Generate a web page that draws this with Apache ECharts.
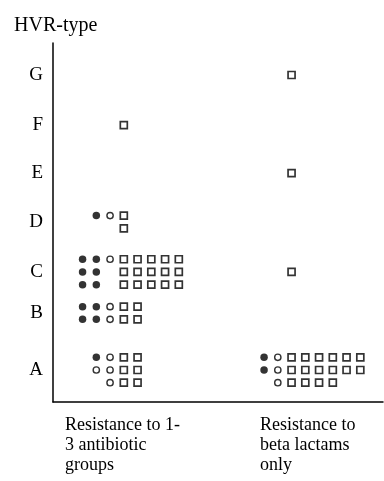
<!DOCTYPE html>
<html>
<head>
<meta charset="utf-8">
<script src="https://cdn.jsdelivr.net/npm/echarts@6/dist/echarts.min.js"></script>
<style>html,body{margin:0;padding:0;background:#fff}#c{width:384px;height:481px}</style>
</head>
<body>
<div id="c"></div>
<script>
// HVR types (y categories) and the level of each on the y axis (row units, top = 0)
const hvrTypes = ['A', 'B', 'C', 'D', 'E', 'F', 'G'];
const hvrLevels = [25.75, 21.26, 18.03, 14.09, 10.24, 6.46, 2.52];

// resistance groups (x categories) and where each group's first column sits (column units)
const groups = ['Resistance to 1-\n3 antibiotic\ngroups', 'Resistance to\nbeta lactams\nonly'];
const groupStarts = [2.15, 15.35];
const groupLabelAt = [0.87, 15.05];

// isolates per cluster, row by row: F = filled circle, O = open circle, S = square, . = empty
const group1Rows = {
  A: ['.FOSS', '.OOSS', '..OSS'],
  B: ['FFOSS', 'FFOSS'],
  C: ['FFOSSSSS', 'FF.SSSSS', 'FF.SSSSS'],
  D: ['.FOS', '...S'],
  F: ['...S']
};
const group2Rows = {
  A: ['FOSSSSSS', 'FOSSSSSS', '.OSSSS'],
  C: ['..S'],
  E: ['..S'],
  G: ['..S']
};
const clusterRows = [group1Rows, group2Rows];

const kinds = { F: [], O: [], S: [] };
clusterRows.forEach((rowsByType, g) => {
  Object.keys(rowsByType).forEach(t => {
    const rows = rowsByType[t];
    const level = hvrLevels[hvrTypes.indexOf(t)];
    rows.forEach((row, r) => {
      for (let c = 0; c < row.length; c++) {
        const k = row[c];
        if (kinds[k]) kinds[k].push([groupStarts[g] + c, level + (r - (rows.length - 1) / 2)]);
      }
    });
  });
});

const serif = '"Liberation Serif", "DejaVu Serif", serif';
const chart = echarts.init(document.getElementById('c'), null, { renderer: 'canvas' });
chart.setOption({
  backgroundColor: '#fff',
  animation: false,
  title: {
    text: 'HVR-type', left: 9, top: 11,
    textStyle: { fontFamily: serif, fontSize: 20, fontWeight: 'normal', color: '#000' }
  },
  grid: { left: 53, right: 1, top: 43, bottom: 79 },
  xAxis: {
    type: 'value', min: 0, max: 24,
    splitLine: { show: false },
    axisTick: { show: false },
    axisLine: { show: true, onZero: false, lineStyle: { color: '#000', width: 1.5 } },
    axisLabel: {
      customValues: groupLabelAt,
      formatter: (v) => groups[groupLabelAt.indexOf(v)] || '',
      align: 'left', margin: 13, lineHeight: 20,
      fontFamily: serif, fontSize: 18, color: '#000'
    }
  },
  yAxis: {
    type: 'value', min: 0, max: 28.27, inverse: true,
    splitLine: { show: false },
    axisTick: { show: false },
    axisLine: { show: true, onZero: false, lineStyle: { color: '#000', width: 1.5 } },
    axisLabel: {
      customValues: hvrLevels,
      formatter: v => hvrTypes[hvrLevels.indexOf(v)] || '',
      margin: 10, fontFamily: serif, fontSize: 19, color: '#000'
    }
  },
  series: [
    { name: 'Filled circle', type: 'scatter', symbol: 'circle', symbolSize: 7.5,
      itemStyle: { color: '#000' }, data: kinds.F },
    { name: 'Open circle', type: 'scatter', symbol: 'circle', symbolSize: 6.3,
      itemStyle: { color: '#fff', borderColor: '#000', borderWidth: 1.4 }, data: kinds.O },
    { name: 'Square', type: 'scatter', symbol: 'rect', symbolSize: 7,
      itemStyle: { color: '#fff', borderColor: '#000', borderWidth: 1.7 }, data: kinds.S }
  ]
});
</script>
</body>
</html>
